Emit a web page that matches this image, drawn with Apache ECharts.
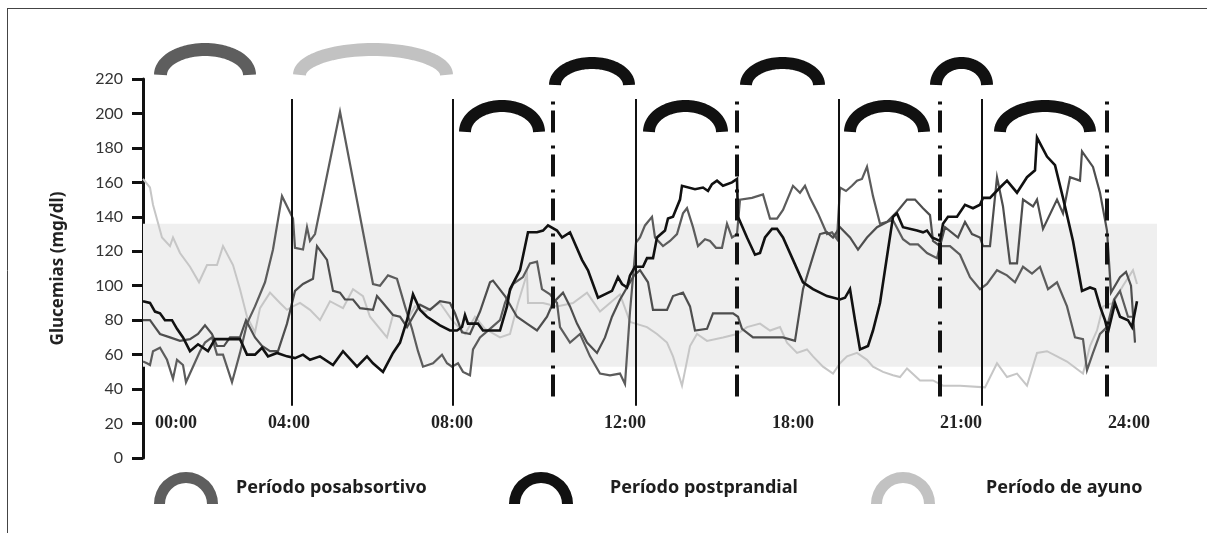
<!DOCTYPE html>
<html><head><meta charset="utf-8">
<script src="https://cdn.jsdelivr.net/npm/echarts@6/dist/echarts.min.js"></script>
<style>html,body{margin:0;padding:0;background:#fff}#c{width:1207px;height:533px}</style>
</head><body><div id="c"></div>
<script>
// ---- data (x = position along the schematic 24 h axis, y = glucemia mg/dl) ----
const timeLabels = ['00:00','04:00','08:00','12:00','18:00','21:00','24:00'];
const timeLabelPos = [33,146,309,482,650,818,986];
const mealLinePos = [149,310,493,696,839];        // solid vertical lines
const periodEndPos = [410,594,797,964];            // dash-dot vertical lines
const targetBand = [53,136];

const ayuno = [[0,162],[7,157],[10,147],[19,128],[27,123],[30,128],[37,119],[47,111],[56,102],[64,112],[74,112],[80,123],[90,112],[97,98],[104,82],[112,73],[117,87],[127,96],[137,90],[144,86],[150,88],[157,90],[167,86],[177,80],[187,91],[200,87],[210,98],[220,94],[227,82],[244,70],[250,83],[257,82],[262,78],[272,88],[282,85],[297,90],[309,80],[322,72],[332,82],[342,75],[357,70],[367,72],[375,90],[384,107],[385,90],[400,90],[414,88],[430,90],[444,96],[457,85],[467,90],[477,95],[487,79],[504,76],[514,72],[524,67],[530,59],[539,42],[547,65],[554,72],[564,68],[580,70],[594,72],[604,76],[617,78],[627,74],[637,76],[644,67],[654,61],[664,63],[670,59],[680,53],[690,49],[697,55],[704,59],[714,61],[724,57],[730,53],[740,50],[750,48],[757,47],[764,52],[777,45],[790,45],[800,42],[817,42],[842,41],[854,55],[864,47],[874,49],[884,42],[894,61],[904,62],[914,59],[924,56],[940,49],[947,65],[954,74],[960,88],[970,90],[980,100],[990,109],[994,101]];

const negro = [[0,91],[7,90],[12,85],[17,84],[22,80],[29,80],[34,75],[40,70],[47,62],[55,66],[65,62],[72,69],[84,69],[97,69],[104,60],[112,60],[119,64],[125,59],[134,61],[144,59],[152,58],[160,60],[167,57],[177,59],[190,54],[200,62],[214,53],[224,59],[230,55],[240,50],[250,61],[257,67],[264,80],[270,95],[277,86],[284,82],[297,77],[307,74],[314,74],[319,76],[322,83],[325,78],[335,78],[340,74],[357,74],[364,88],[367,98],[377,109],[385,131],[394,131],[400,132],[405,135],[414,132],[419,128],[427,131],[439,115],[445,109],[455,93],[469,97],[475,105],[479,101],[484,99],[487,106],[492,111],[500,111],[504,116],[510,116],[514,128],[522,132],[525,139],[530,140],[537,150],[539,158],[552,156],[560,157],[565,155],[569,159],[574,161],[580,158],[589,160],[594,162],[595,140],[604,128],[612,118],[617,119],[622,128],[629,133],[634,133],[640,128],[650,115],[660,102],[670,98],[684,94],[697,92],[702,93],[707,98],[712,80],[717,63],[725,65],[730,74],[737,90],[744,117],[750,140],[754,142],[760,134],[774,132],[780,131],[784,132],[789,128],[797,126],[800,136],[805,140],[814,140],[822,147],[830,145],[837,147],[840,151],[847,151],[857,157],[864,161],[874,154],[884,163],[892,167],[894,186],[904,175],[912,170],[920,151],[930,126],[939,97],[947,99],[952,98],[957,88],[962,80],[965,73],[972,90],[977,82],[985,80],[989,76],[994,91]];

const gris1 = [[0,56],[4,55],[7,54],[10,62],[17,64],[24,57],[30,46],[34,57],[40,54],[43,44],[50,53],[57,62],[62,67],[69,70],[74,60],[80,60],[89,44],[97,61],[104,78],[112,88],[122,102],[130,121],[139,152],[150,139],[152,122],[160,121],[164,134],[167,126],[172,130],[197,201],[230,101],[237,100],[245,106],[254,104],[257,98],[262,88],[269,75],[275,62],[280,53],[290,55],[299,60],[304,55],[309,53],[315,55],[320,50],[327,48],[330,63],[337,70],[347,75],[357,80],[362,90],[370,101],[380,105],[387,113],[394,114],[399,98],[407,95],[414,90],[417,76],[427,67],[437,72],[447,59],[457,49],[467,48],[477,49],[482,43],[487,85],[493,125],[497,128],[502,135],[509,140],[512,128],[520,123],[527,126],[534,130],[540,142],[544,145],[550,134],[555,123],[562,127],[567,126],[573,122],[579,122],[584,136],[589,128],[594,130],[597,150],[609,151],[620,153],[627,139],[634,139],[640,144],[650,158],[657,154],[662,158],[667,151],[675,142],[684,130],[689,131],[694,127],[697,157],[703,155],[709,158],[714,161],[719,162],[724,169],[730,152],[737,136],[750,138],[760,127],[767,124],[775,124],[784,119],[794,116],[797,123],[807,123],[817,118],[827,105],[837,98],[844,101],[854,109],[864,106],[872,102],[880,111],[889,107],[897,111],[905,98],[914,102],[924,88],[932,70],[940,69],[944,51],[950,61],[957,72],[964,76],[971,92],[977,97],[985,82],[991,82]];

const gris2 = [[0,80],[7,80],[12,76],[17,72],[27,70],[37,68],[47,69],[55,72],[62,77],[69,72],[74,65],[81,65],[87,70],[97,70],[103,80],[112,70],[119,65],[127,62],[135,62],[144,78],[152,97],[160,101],[170,104],[174,123],[184,115],[190,97],[197,96],[202,92],[210,92],[217,87],[230,86],[234,94],[240,90],[250,83],[257,82],[264,76],[277,89],[287,86],[297,91],[307,90],[312,84],[319,73],[327,72],[337,85],[347,102],[350,103],[362,94],[374,82],[384,78],[394,74],[404,82],[410,90],[420,96],[427,88],[434,78],[444,67],[454,61],[462,70],[469,82],[477,92],[485,100],[491,106],[497,109],[505,102],[510,86],[517,86],[524,86],[530,94],[540,96],[547,88],[552,74],[564,75],[570,84],[577,84],[590,84],[595,82],[599,75],[610,70],[624,70],[640,70],[652,68],[660,98],[670,117],[677,130],[684,131],[690,128],[697,134],[707,128],[715,121],[724,128],[734,134],[744,137],[754,143],[764,150],[772,150],[780,145],[787,141],[790,126],[797,123],[802,134],[815,128],[822,137],[829,130],[837,128],[840,123],[847,123],[854,163],[860,146],[867,113],[874,113],[880,150],[890,146],[894,150],[900,133],[914,150],[920,142],[927,163],[937,161],[939,178],[950,169],[957,154],[964,132],[968,96],[977,105],[983,108],[988,100],[992,67]];

// period arcs: [start, end, row]
const arcsPosabsortivo = [[11,113,0]];
const arcsAyuno = [[150,310,0]];
const arcsPostprandial = [[406,492,1],[597,682,1],[787,850,1],[316,402,2],[500,585,2],[701,787,2],[851,953,2]];

// ---- styling ----
const rowLevels = [[222.4,240.9],[216.5,232.8],[189.3,207.8]];
const FONT = '"Noto Sans", "Open Sans", sans-serif';
const arcIcon = 'path://M0,32 A32,32 0 0 1 64,32 L53,32 A21,21 0 0 0 11,32 Z';

function arcRenderer(color, lw) {
  return function (params, api) {
    const row = api.value(2);
    const lv = rowLevels[row];
    const p0 = api.coord([api.value(0), lv[0]]);
    const p1 = api.coord([api.value(1), lv[1]]);
    const cx = (p0[0] + p1[0]) / 2;
    const rx = (p1[0] - p0[0] - lw) / 2;
    const yb = p0[1];
    const ry = (p0[1] - p1[1]) - lw / 2;
    const pts = [];
    for (let i = 0; i <= 48; i++) {
      const t = Math.PI * i / 48;
      pts.push([cx - rx * Math.cos(t), yb - ry * Math.sin(t)]);
    }
    return {type: 'polyline', shape: {points: pts},
      style: {stroke: color, lineWidth: lw, fill: null, lineCap: 'butt', lineJoin: 'round'}};
  };
}

function lineSeries(name, data, color, width, z) {
  return {name, type: 'line', data, showSymbol: false, symbol: 'none', z,
    lineStyle: {color, width, join: 'miter'}, itemStyle: {color}, silent: true};
}

function legendCfg(name, left, padLeft, color) {
  return {data: [{name, icon: arcIcon, itemStyle: {color}}], left, top: 472, padding: 0,
    itemWidth: 64, itemHeight: 32, selectedMode: false,
    textStyle: {fontFamily: FONT, fontWeight: 'bold', fontSize: 18, color: '#1e1e1e', padding: [16, 0, 0, padLeft]}};
}

const chart = echarts.init(document.getElementById('c'), null, {renderer: 'canvas'});
chart.setOption({
  animation: false,
  backgroundColor: '#fff',
  grid: {left: 143, right: 50, top: 79, bottom: 75},
  xAxis: {type: 'value', min: 0, max: 1014,
    axisLine: {show: false}, axisTick: {show: false}, splitLine: {show: false},
    axisLabel: {customValues: timeLabelPos, formatter: v => timeLabels[timeLabelPos.indexOf(v)],
      margin: -35, verticalAlign: 'middle', fontFamily: '"Liberation Serif", serif', fontWeight: 'bold', fontSize: 18, color: '#222'}},
  yAxis: {type: 'value', min: 0, max: 220, interval: 20,
    axisLine: {show: true, lineStyle: {color: '#111', width: 3}},
    axisTick: {show: true, length: 11, lineStyle: {color: '#111', width: 3}},
    splitLine: {show: false},
    axisLabel: {fontFamily: 'Lato, sans-serif', fontSize: 16, color: '#333', margin: 20, padding: [0, 0, 10, 0]},
    name: 'Glucemias (mg/dl)', nameLocation: 'middle', nameGap: 76,
    nameTextStyle: {fontFamily: FONT, fontWeight: 'bold', fontSize: 17, color: '#222'}},
  legend: [
    legendCfg('Período posabsortivo', 154, 13, '#5e5e5e'),
    legendCfg('Período postprandial', 509, 32, '#111'),
    legendCfg('Período de ayuno', 871, 46, '#c2c2c2')
  ],
  graphic: [
    {type: 'line', shape: {x1: 7, y1: 8.5, x2: 1207, y2: 8.5}, style: {stroke: '#444', lineWidth: 1}, silent: true},
    {type: 'line', shape: {x1: 7.5, y1: 8, x2: 7.5, y2: 533}, style: {stroke: '#444', lineWidth: 1}, silent: true}
  ],
  series: [
    {name: 'banda', type: 'line', data: [], z: 1, silent: true,
      markArea: {silent: true, itemStyle: {color: '#efefef'},
        data: [[{yAxis: targetBand[0]}, {yAxis: targetBand[1]}]]}},
    lineSeries('Paciente ayuno', ayuno, '#c6c6c6', 2, 2),
    lineSeries('Paciente A', gris1, '#5c5c5c', 2.2, 3),
    lineSeries('Paciente B', gris2, '#4e4e4e', 2.2, 3),
    lineSeries('Paciente C', negro, '#111', 2.6, 4),
    {name: 'verticales', type: 'line', data: [], z: 5, silent: true,
      markLine: {silent: true, symbol: 'none', label: {show: false},
        data: mealLinePos.map(x => [{coord: [x, 208.4], lineStyle: {color: '#111', width: 2, type: 'solid'}}, {coord: [x, 30.3]}])
          .concat(periodEndPos.map(x => [{coord: [x, 207], lineStyle: {color: '#111', width: 4, type: [3, 6, 22, 13], cap: 'butt'}}, {coord: [x, 32]}]))}},
    {name: 'Período posabsortivo', type: 'custom', data: arcsPosabsortivo, z: 6, clip: false,
      itemStyle: {color: '#5e5e5e'}, renderItem: arcRenderer('#5e5e5e', 13), silent: true},
    {name: 'Período postprandial', type: 'custom', data: arcsPostprandial, z: 6, clip: false,
      itemStyle: {color: '#111'}, renderItem: arcRenderer('#111', 12), silent: true},
    {name: 'Período de ayuno', type: 'custom', data: arcsAyuno, z: 6, clip: false,
      itemStyle: {color: '#c2c2c2'}, renderItem: arcRenderer('#c2c2c2', 13), silent: true}
  ]
});
</script></body></html>
